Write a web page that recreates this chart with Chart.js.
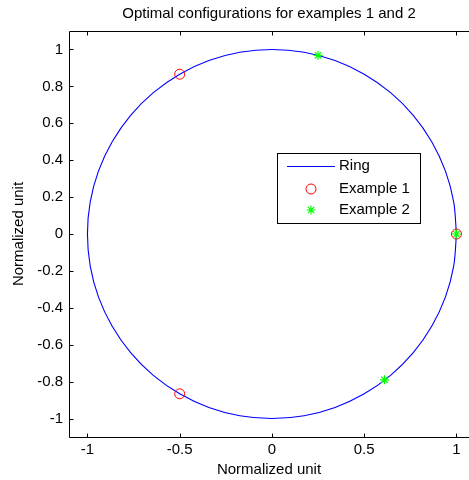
<!DOCTYPE html>
<html>
<head>
<meta charset="utf-8">
<title>Optimal configurations</title>
<script src="https://cdn.jsdelivr.net/npm/chart.js@4/dist/chart.umd.min.js"></script>
<style>
  html, body { margin: 0; padding: 0; background: #fff; overflow: hidden; }
  #wrap { width: 469px; height: 480px; }
</style>
</head>
<body>
<div id="wrap"><canvas id="ringChart" width="469" height="480"></canvas></div>
<script>
// --- Data ---
const ringX = [1, 0.985, 0.940, 0.866, 0.766, 0.643, 0.5, 0.342, 0.174, 0, -0.174, -0.342, -0.5, -0.643, -0.766, -0.866, -0.940, -0.985,
               -1, -0.985, -0.940, -0.866, -0.766, -0.643, -0.5, -0.342, -0.174, 0, 0.174, 0.342, 0.5, 0.643, 0.766, 0.866, 0.940, 0.985, 1];
const ringY = [0, 0.174, 0.342, 0.5, 0.643, 0.766, 0.866, 0.940, 0.985, 1, 0.985, 0.940, 0.866, 0.766, 0.643, 0.5, 0.342, 0.174,
               0, -0.174, -0.342, -0.5, -0.643, -0.766, -0.866, -0.940, -0.985, -1, -0.985, -0.940, -0.866, -0.766, -0.643, -0.5, -0.342, -0.174, 0];
const example1X = [1, -0.5, -0.5];
const example1Y = [0, 0.866, -0.866];
const example2X = [1, 0.25, 0.61];
const example2Y = [0, 0.968, -0.79];
const xTicks = [-1, -0.5, 0, 0.5, 1];
const yTicks = [-1, -0.8, -0.6, -0.4, -0.2, 0, 0.2, 0.4, 0.6, 0.8, 1];

const FONT = '"Liberation Sans", Arial, sans-serif';
const toPoints = (xs, ys) => xs.map((x, i) => ({ x: x, y: ys[i] }));

// --- Axes box with inward ticks (MATLAB look); the right side is cropped off ---
const axesBox = {
    id: 'axesBox',
    afterDatasetsDraw(chart) {
        const { ctx, chartArea: a, scales } = chart;
        const tick = 4;
        const left = Math.round(a.left) + 0.5;
        const top = Math.round(a.top) + 0.5;
        const bottom = Math.round(a.bottom) + 0.5;
        ctx.save();
        ctx.strokeStyle = '#000';
        ctx.lineWidth = 1;
        ctx.beginPath();
        scales.x.ticks.forEach(t => {
            const px = Math.round(scales.x.getPixelForValue(t.value)) + 0.5;
            ctx.moveTo(px, bottom); ctx.lineTo(px, bottom - tick);
            ctx.moveTo(px, top); ctx.lineTo(px, top + tick);
        });
        scales.y.ticks.forEach(t => {
            const py = Math.round(scales.y.getPixelForValue(t.value)) + 0.5;
            ctx.moveTo(left, py); ctx.lineTo(left + tick, py);
        });
        // frame: top, left, bottom
        ctx.moveTo(a.right, top); ctx.lineTo(left, top);
        ctx.lineTo(left, bottom); ctx.lineTo(a.right, bottom);
        ctx.stroke();
        ctx.restore();
    }
};

// --- Legend box drawn inside the axes ---
const boxLegend = {
    id: 'boxLegend',
    afterDraw(chart) {
        const { ctx } = chart;
        const left = 277, top = 153, width = 143, height = 70;
        const rows = [166, 189, 210];
        ctx.save();
        ctx.fillStyle = '#fff';
        ctx.fillRect(left + 0.5, top + 0.5, width, height);
        ctx.strokeStyle = '#000';
        ctx.lineWidth = 1;
        ctx.strokeRect(left + 0.5, top + 0.5, width, height);

        chart.data.datasets.forEach((ds, i) => {
            const y = rows[i];
            if (ds.showLine) {
                ctx.strokeStyle = ds.borderColor;
                ctx.lineWidth = ds.borderWidth;
                ctx.beginPath();
                ctx.moveTo(287, y + 0.5);
                ctx.lineTo(335, y + 0.5);
                ctx.stroke();
            } else {
                ctx.strokeStyle = ds.pointBorderColor;
                ctx.fillStyle = ds.pointBackgroundColor;
                ctx.lineWidth = ds.pointBorderWidth;
                Chart.helpers.drawPoint(ctx, {
                    pointStyle: ds.pointStyle, radius: ds.pointRadius, rotation: 0, borderWidth: ds.pointBorderWidth
                }, 311, y);
            }
            ctx.fillStyle = '#000';
            ctx.font = '15px ' + FONT;
            ctx.textBaseline = 'middle';
            ctx.textAlign = 'left';
            ctx.fillText(ds.label, 339, y);
        });
        ctx.restore();
    }
};

new Chart(document.getElementById('ringChart'), {
    type: 'scatter',
    data: {
        datasets: [
            {
                label: 'Ring',
                data: toPoints(ringX, ringY),
                showLine: true,
                borderColor: '#0000ff',
                borderWidth: 1.1,
                tension: 0.335,
                pointRadius: 0,
                fill: false,
                order: 3
            },
            {
                label: 'Example 1',
                data: toPoints(example1X, example1Y),
                showLine: false,
                pointStyle: 'circle',
                pointRadius: 5,
                pointBorderWidth: 1,
                pointBorderColor: '#ff0000',
                pointBackgroundColor: 'rgba(0,0,0,0)',
                order: 2
            },
            {
                label: 'Example 2',
                data: toPoints(example2X, example2Y),
                showLine: false,
                pointStyle: 'star',
                pointRadius: 4.5,
                pointBorderWidth: 1.2,
                pointBorderColor: '#00ff00',
                pointBackgroundColor: '#00ff00',
                order: 1
            }
        ]
    },
    options: {
        responsive: false,
        animation: false,
        events: [],
        layout: { autoPadding: false, padding: { left: 0, right: 0, top: 0, bottom: 0 } },
        plugins: {
            legend: { display: false },
            tooltip: { enabled: false },
            title: {
                display: true,
                text: 'Optimal configurations for examples 1 and 2',
                color: '#000',
                font: { family: FONT, size: 15, weight: 'normal', lineHeight: 1.2 },
                padding: { top: 5, bottom: 8 },
                fullSize: false
            }
        },
        scales: {
            x: {
                type: 'linear',
                min: -1.1,
                max: 1.068,   // the figure is cropped just past x = 1
                afterBuildTicks: scale => { scale.ticks = xTicks.map(v => ({ value: v })); },
                afterFit: scale => {
                    scale.height = 43;
                    scale.paddingLeft = 0;
                    scale.paddingRight = 0;
                },
                grid: { display: false, drawTicks: false },
                border: { display: false },
                ticks: {
                    color: '#000',
                    padding: 4,
                    maxRotation: 0,
                    font: { family: FONT, size: 15 },
                    callback: v => String(v)
                },
                title: {
                    display: true,
                    text: 'Normalized unit',
                    color: '#000',
                    font: { family: FONT, size: 15, lineHeight: 1.2 },
                    padding: { top: 0, bottom: 1 }
                }
            },
            y: {
                type: 'linear',
                min: -1.1,
                max: 1.1,
                afterBuildTicks: scale => { scale.ticks = yTicks.map(v => ({ value: v })); },
                afterFit: scale => {
                    scale.width = 69;
                    scale.paddingTop = 0;
                    scale.paddingBottom = 0;
                },
                grid: { display: false, drawTicks: false },
                border: { display: false },
                ticks: {
                    color: '#000',
                    padding: 6,
                    font: { family: FONT, size: 15 },
                    callback: v => String(Math.round(v * 10) / 10)
                },
                title: {
                    display: true,
                    text: 'Normalized unit',
                    color: '#000',
                    font: { family: FONT, size: 15, lineHeight: 1.2 },
                    padding: { top: 10, bottom: 0 }
                }
            }
        }
    },
    plugins: [axesBox, boxLegend]
});
</script>
</body>
</html>
